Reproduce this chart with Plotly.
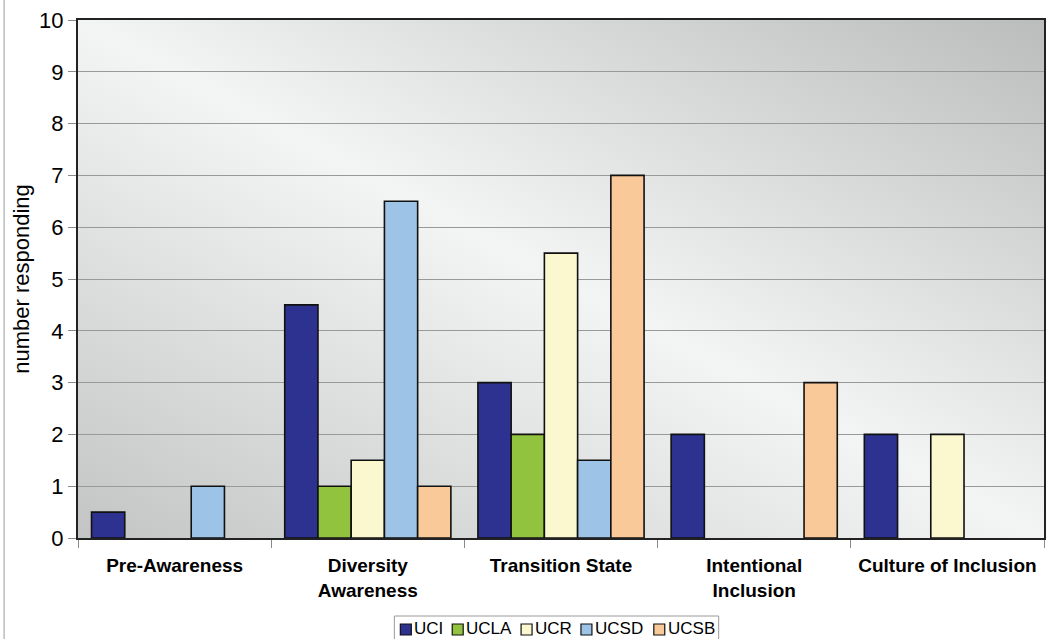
import base64
import plotly.graph_objects as go

# Stages along the x axis (line breaks as drawn in the tick labels)
categories = ["Pre-Awareness", "Diversity<br>Awareness", "Transition State",
              "Intentional<br>Inclusion", "Culture of Inclusion"]

# Number of respondents per campus at each stage
uci = [0.5, 4.5, 3, 2, 2]
ucla = [0, 1, 2, 0, 0]
ucr = [0, 1.5, 5.5, 0, 2]
ucsd = [1, 6.5, 1.5, 0, 0]
ucsb = [0, 1, 7, 3, 0]

campuses = ["UCI", "UCLA", "UCR", "UCSD", "UCSB"]
values = [uci, ucla, ucr, ucsd, ucsb]
colors = ["#2d3290", "#92c33e", "#fbf8d0", "#9dc3e6", "#f9c999"]

fig = go.Figure()
for name, vals, color in zip(campuses, values, colors):
    fig.add_trace(go.Bar(
        x=categories, y=vals, name=name,
        marker=dict(color=color,
                    line=dict(color="#111111",
                              width=[1.6 if v else 0 for v in vals])),
    ))

# Plot-area geometry in pixels, used to place decorations in paper units
W, H = 1047, 639
L, R, T, B = 78, 1, 20, 101
PW, PH = W - L - R, H - T - B


def px(x):
    return (x - L) / PW


def py(y):
    return (H - B - y) / PH


# Diagonal gray-white-gray gradient for the plot area background
svg = (
    '<svg xmlns="http://www.w3.org/2000/svg" width="100" height="100" '
    'viewBox="0 0 100 100" preserveAspectRatio="none">'
    '<defs><linearGradient id="g" x1="1" y1="0" x2="0" y2="1">'
    '<stop offset="0" stop-color="#bbbcbc"/>'
    '<stop offset="0.5" stop-color="#f3f4f4"/>'
    '<stop offset="1" stop-color="#c3c4c4"/>'
    '</linearGradient></defs>'
    '<rect x="0" y="0" width="100" height="100" fill="url(#g)"/></svg>'
)
svg_uri = "data:image/svg+xml;base64," + base64.b64encode(svg.encode()).decode()

fig.add_layout_image(dict(
    source=svg_uri, xref="paper", yref="paper", x=0, y=1,
    sizex=1, sizey=1, xanchor="left", yanchor="top",
    sizing="stretch", layer="below",
))

# Thin outer frame line at the left edge of the chart
fig.add_shape(type="line", xref="paper", yref="paper",
              x0=px(4), x1=px(4), y0=py(645), y1=py(-5),
              line=dict(color="#bdbdbd", width=1.5))

# Compact boxed legend along the bottom edge
fig.add_shape(type="rect", xref="paper", yref="paper",
              x0=px(395), x1=px(720), y0=py(650), y1=py(616),
              line=dict(color="#9a9a9a", width=1), fillcolor="white")
legend_x = [401, 453, 522, 582, 655]
for lx, name, color in zip(legend_x, campuses, colors):
    fig.add_shape(type="rect", xref="paper", yref="paper",
                  x0=px(lx), x1=px(lx + 11), y0=py(635), y1=py(624),
                  line=dict(color="#111111", width=1.2), fillcolor=color)
    fig.add_annotation(x=px(lx + 13), y=py(628), xref="paper", yref="paper",
                       text=name, showarrow=False, xanchor="left",
                       yanchor="middle", borderpad=0,
                       font=dict(size=17, color="black"))

fig.update_layout(
    width=W, height=H,
    margin=dict(l=L, r=R, t=T, b=B),
    paper_bgcolor="white",
    plot_bgcolor="rgba(0,0,0,0)",
    barmode="group", bargap=0.14, bargroupgap=0,
    font=dict(family="Arial, Liberation Sans, sans-serif", color="black"),
    showlegend=False,
)

fig.update_xaxes(
    type="category", tickson="boundaries",
    ticks="outside", ticklen=8, tickcolor="#8a8a8a", tickwidth=1,
    showgrid=False, showline=True, linecolor="#222222", linewidth=2,
    mirror=True,
    tickfont=dict(size=19, weight="bold"),
    ticklabelstandoff=9,
)

fig.update_yaxes(
    range=[0, 10], dtick=1, tick0=0,
    ticks="outside", ticklen=8, tickcolor="#8a8a8a", tickwidth=1,
    showgrid=True, gridcolor="#999999", gridwidth=1,
    showline=True, linecolor="#222222", linewidth=2, mirror=True,
    zeroline=False,
    tickfont=dict(size=22),
    title=dict(text="number responding", font=dict(size=22), standoff=3),
)

fig.write_html("out.html")
